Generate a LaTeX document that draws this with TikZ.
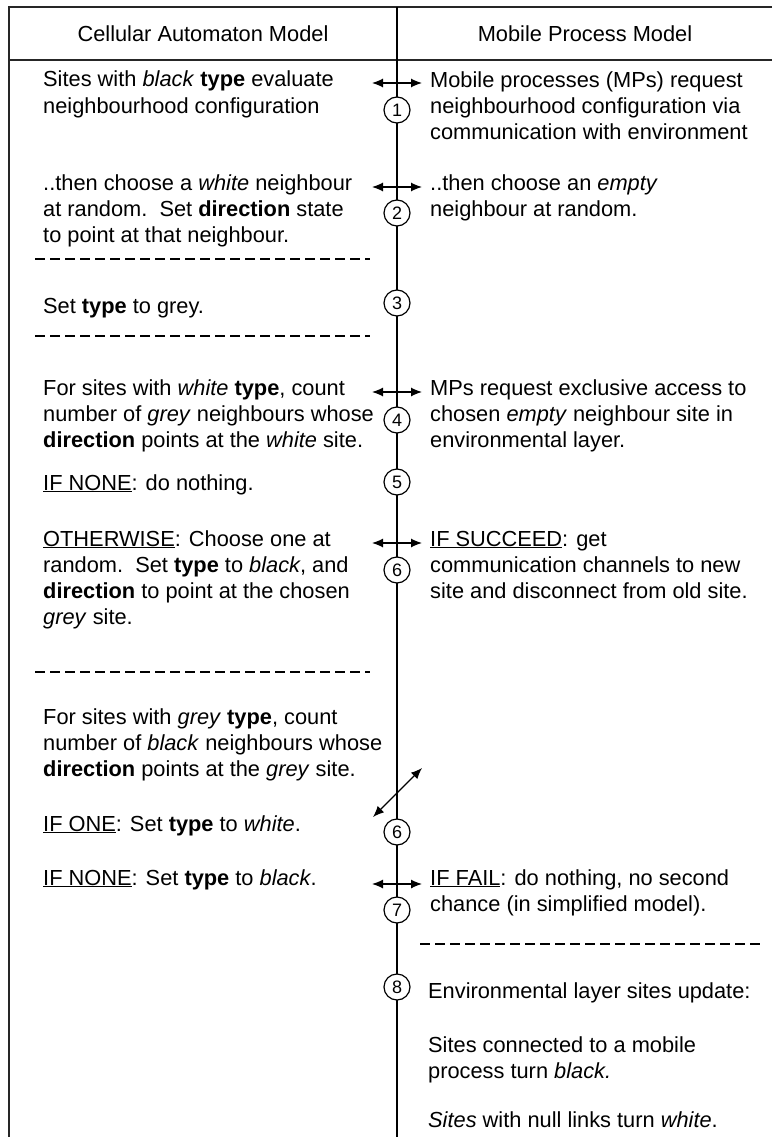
\documentclass[tikz,border=0pt]{standalone}
\usepackage{fontspec}
\setmainfont{Liberation Sans}
\usetikzlibrary{arrows.meta}
\tikzstyle{cell} = [anchor=base west, align=left, inner sep=0pt, font={\fontsize{21.8}{26.3}\selectfont}]
\tikzstyle{head} = [inner sep=0pt, font={\fontsize{21.8}{26.3}\selectfont}]
\tikzstyle{stage} = [circle, draw=black, line width=1.2pt, fill=white, minimum size=26pt, inner sep=0pt, font={\fontsize{18}{18}\selectfont}]
\tikzstyle{frame} = [line width=1.7pt, draw=black!85]
\tikzstyle{spine} = [line width=1.3pt]
\tikzstyle{divider} = [line width=1.1pt, dash pattern=on 9.5pt off 5.5pt]
\tikzstyle{arrow} = [line width=1.2pt, {Latex[length=11pt,width=9pt]}-{Latex[length=11pt,width=9pt]}]
\begin{document}
\begin{tikzpicture}[x=1pt, y=-1pt]

    \useasboundingbox (0,0) rectangle (772,1137);

    % table frame
    \coordinate (tl) at (9,7);
    \coordinate (tr) at (772,7);
    \coordinate (hl) at (9,60);
    \coordinate (hr) at (772,60);
    \coordinate (bl) at (9,1137);
    \coordinate (midtop) at (397,7);
    \coordinate (midbot) at (397,1137);
    \draw [frame] (tr) -- (tl) -- (bl);
    \draw [frame] (hl) -- (hr);
    \draw [spine] (midtop) -- (midbot);

    \node (caHead) [head] at (203,34) {Cellular Automaton Model};
    \node (mpHead) [head] at (585,34) {Mobile Process Model};

    % left column (nodes sit on the baseline of their last line)
    \node (caEval) [cell] at (43,113.3) {Sites with \emph{black} \textbf{type} evaluate\\neighbourhood configuration};
    \node (caChoose) [cell] at (43,242.6) {..then choose a \emph{white} neighbour\\at random.\ \ Set \textbf{direction} state\\to point at that neighbour.};
    \node (caGrey) [cell] at (43,313) {Set \textbf{type} to grey.};
    \node (caWhite) [cell] at (43,447.6) {For sites with \emph{white} \textbf{type}, count\\number of \emph{grey} neighbours whose\\\textbf{direction} points at the \emph{white} site.};
    \node (caNone) [cell] at (43,490) {\underline{IF NONE}: do nothing.};
    \node (caOther) [cell] at (43,624.9) {\underline{OTHERWISE}: Choose one at\\random.\ \ Set \textbf{type} to \emph{black}, and\\\textbf{direction} to point at the chosen\\\emph{grey} site.};
    \node (caGreyType) [cell] at (43,776.6) {For sites with \emph{grey} \textbf{type}, count\\number of \emph{black} neighbours whose\\\textbf{direction} points at the \emph{grey} site.};
    \node (caOne) [cell] at (43,831) {\underline{IF ONE}: Set \textbf{type} to \emph{white}.};
    \node (caNoneBlack) [cell] at (43,885) {\underline{IF NONE}: Set \textbf{type} to \emph{black}.};

    % right column
    \node (mpRequest) [cell] at (430,139.6) {Mobile processes (MPs) request\\neighbourhood configuration via\\communication with environment};
    \node (mpChoose) [cell] at (430,216.3) {..then choose an \emph{empty}\\neighbour at random.};
    \node (mpAccess) [cell] at (430,447.6) {MPs request exclusive access to\\chosen \emph{empty} neighbour site in\\environmental layer.};
    \node (mpSucceed) [cell] at (430,598.6) {\underline{IF SUCCEED}: get\\communication channels to new\\site and disconnect from old site.};
    \node (mpFail) [cell] at (430,911.3) {\underline{IF FAIL}: do nothing, no second\\chance (in simplified model).};
    \node (envUpdate) [cell] at (428,998) {Environmental layer sites update:};
    \node (envBlack) [cell] at (428,1078.3) {Sites connected to a mobile\\process turn \emph{black.}};
    \node (envWhite) [cell] at (428,1127) {\emph{Sites} with null links turn \emph{white}.};

    % dashed separators
    \coordinate (sep1a) at (35,259);
    \coordinate (sep1b) at (370,259);
    \coordinate (sep2a) at (35,336);
    \coordinate (sep2b) at (370,336);
    \coordinate (sep3a) at (35,672);
    \coordinate (sep3b) at (370,672);
    \coordinate (sep4a) at (420,944);
    \coordinate (sep4b) at (760,944);
    \draw [divider] (sep1a) -- (sep1b);
    \draw [divider] (sep2a) -- (sep2b);
    \draw [divider] (sep3a) -- (sep3b);
    \draw [divider] (sep4a) -- (sep4b);

    % exchanges between the two models
    \coordinate (x1w) at (372,83);
    \coordinate (x1e) at (422,83);
    \coordinate (x2w) at (372,187);
    \coordinate (x2e) at (422,187);
    \coordinate (x4w) at (372,392);
    \coordinate (x4e) at (422,392);
    \coordinate (x6w) at (372,543);
    \coordinate (x6e) at (422,543);
    \coordinate (x7w) at (372,884);
    \coordinate (x7e) at (422,884);
    \coordinate (diagLow) at (373,817);
    \coordinate (diagHigh) at (422,768);
    \draw [arrow] (x1w) -- (x1e);
    \draw [arrow] (x2w) -- (x2e);
    \draw [arrow] (x4w) -- (x4e);
    \draw [arrow] (x6w) -- (x6e);
    \draw [arrow] (x7w) -- (x7e);
    \draw [arrow] (diagLow) -- (diagHigh);

    % step numbers on the time line
    \node (s1) [stage] at (397,110) {1};
    \node (s2) [stage] at (397,213) {2};
    \node (s3) [stage] at (397,303) {3};
    \node (s4) [stage] at (397,420) {4};
    \node (s5) [stage] at (397,482) {5};
    \node (s6) [stage] at (397,570) {6};
    \node (s6b) [stage] at (397,832) {6};
    \node (s7) [stage] at (397,910) {7};
    \node (s8) [stage] at (397,987) {8};

\end{tikzpicture}
\end{document}
